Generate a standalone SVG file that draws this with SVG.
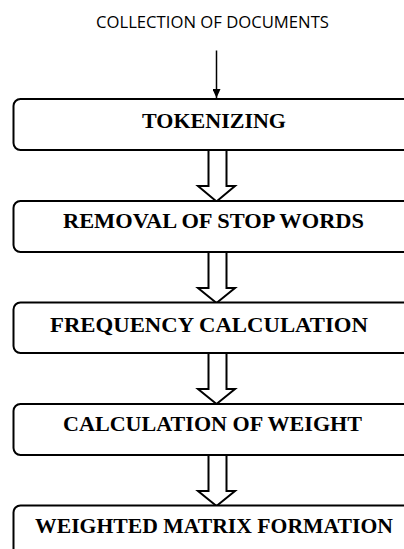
<svg xmlns="http://www.w3.org/2000/svg" width="404" height="549" viewBox="0 0 404 549">
<style>
.box{fill:#fff;stroke:#000;stroke-width:2}
.lbl{font-family:"Liberation Serif","Times New Roman",serif;font-weight:bold;font-size:22px;fill:#000}
.ttl{font-family:"Open Sans","Liberation Sans",sans-serif;font-size:15.5px;fill:#000}
.blk{fill:#fff;stroke:#000;stroke-width:2;stroke-linejoin:miter}
</style>
<defs>
<marker id="ah" markerWidth="9" markerHeight="8" refX="9" refY="4" orient="auto" markerUnits="userSpaceOnUse">
<path d="M0,0 L9,4 L0,8 Z" fill="#000"/>
</marker>
</defs>
<g id="title"><text class="ttl" x="96" y="28" textLength="233" lengthAdjust="spacingAndGlyphs">COLLECTION OF DOCUMENTS</text></g>
<g id="connectors">
<line x1="216.5" y1="50.5" x2="216.5" y2="98" stroke="#000" stroke-width="1.5" marker-end="url(#ah)"/>
<path class="blk" d="M208.5,150 V186 H198 L216.5,201.5 L235,186 H226.5 V150"/>
<path class="blk" d="M208.5,252 V288 H198 L216.5,303 L235,288 H226.5 V252"/>
<path class="blk" d="M208.5,353 V389 H198 L216.5,404 L235,389 H226.5 V353"/>
<path class="blk" d="M208.5,455 V491 H198 L216.5,506 L235,491 H226.5 V455"/>
</g>
<g id="n1"><rect class="box" x="13.5" y="99" width="410" height="51" rx="7"/><text class="lbl" x="142" y="128" textLength="144" lengthAdjust="spacingAndGlyphs">TOKENIZING</text></g>
<g id="n2"><rect class="box" x="13.5" y="201" width="410" height="51" rx="7"/><text class="lbl" x="63" y="228" textLength="301" lengthAdjust="spacingAndGlyphs">REMOVAL OF STOP WORDS</text></g>
<g id="n3"><rect class="box" x="13.5" y="302.5" width="410" height="50.5" rx="7"/><text class="lbl" x="50" y="332" textLength="318" lengthAdjust="spacingAndGlyphs">FREQUENCY CALCULATION</text></g>
<g id="n4"><rect class="box" x="13.5" y="404" width="410" height="51" rx="7"/><text class="lbl" x="63" y="431" textLength="299" lengthAdjust="spacingAndGlyphs">CALCULATION OF WEIGHT</text></g>
<g id="n5"><rect class="box" x="13.5" y="505.5" width="410" height="80" rx="7"/><text class="lbl" x="35" y="533" textLength="358" lengthAdjust="spacingAndGlyphs">WEIGHTED MATRIX FORMATION</text></g>
</svg>
